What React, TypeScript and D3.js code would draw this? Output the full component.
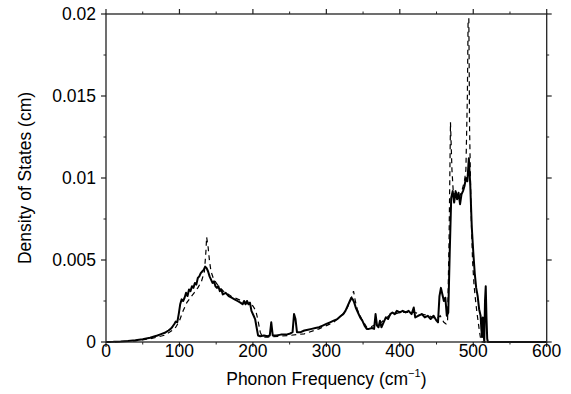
import React from "react";
import * as d3 from "d3";

const W = 571;
const H = 394;
const M = { left: 106, right: 571 - 546.7, top: 14, bottom: 394 - 342 };

const xTicks = [0, 100, 200, 300, 400, 500, 600];
const xMinor = [50, 150, 250, 350, 450, 550];
const yTicks = [0, 0.005, 0.01, 0.015, 0.02];
const yTickLabels = ["0", "0.005", "0.01", "0.015", "0.02"];
const yMinor = [0.0025, 0.0075, 0.0125, 0.0175];

// Solid curve (frequency, DOS)
const solidFreq = [
  0, 10, 20, 30, 40, 50, 60, 70, 75, 80, 85, 88, 90, 93, 95, 97, 99, 101, 103, 105, 107, 109, 111, 113, 115, 117, 119,
  121, 123, 125, 127, 129, 131, 133, 135, 137, 139, 141, 143, 145, 147, 149, 151, 153, 155, 157, 159, 163, 167, 171,
  175, 179, 183, 186, 188, 190, 192, 194, 196, 198, 201, 203, 205, 207, 210, 215, 220, 223, 225, 227, 232, 238, 245,
  250, 254, 256, 258, 260, 265, 270, 275, 280, 285, 290, 295, 300, 305, 310, 315, 320, 323, 326, 329, 332, 334, 336,
  338, 340, 343, 346, 349, 352, 355, 358, 362, 365, 367, 369, 371, 373, 375, 378, 381, 384, 387, 390, 393, 396, 400,
  404, 408, 412, 416, 419, 421, 425, 430, 434, 438, 442, 446, 450, 452, 454, 456, 458, 460, 462, 464, 466, 468, 470,
  472, 474, 476, 478, 480, 482, 484, 486, 488, 490, 492, 494, 496, 498, 500, 502, 504, 506, 508, 510, 511, 512, 513,
  514, 515, 516, 517, 518, 519, 520, 600,
];
const solidDos = [
  0, 0.00001, 0.00003, 0.00006, 0.0001, 0.00017, 0.00026, 0.0004, 0.00048, 0.00056, 0.0007, 0.0008, 0.0009, 0.0011,
  0.00125, 0.0012, 0.0017, 0.0023, 0.0026, 0.0025, 0.0027, 0.003, 0.0028, 0.0032, 0.0031, 0.0034, 0.0033, 0.0036,
  0.0035, 0.0039, 0.004, 0.0042, 0.0043, 0.0044, 0.0046, 0.0045, 0.0043, 0.004, 0.0038, 0.0036, 0.0037, 0.0034,
  0.0033, 0.0034, 0.0031, 0.0032, 0.0029, 0.003, 0.0028, 0.0027, 0.0026, 0.0025, 0.0024, 0.0023, 0.0025, 0.0023,
  0.0025, 0.0023, 0.0024, 0.0019, 0.0016, 0.0014, 0.0009, 0.0004, 0.00035, 0.0004, 0.00035, 0.0004, 0.0012, 0.0004,
  0.0004, 0.00045, 0.00045, 0.0005, 0.0006, 0.0017, 0.0014, 0.0006, 0.0006, 0.0007, 0.00075, 0.0008, 0.00085, 0.0009,
  0.001, 0.0011, 0.0012, 0.0013, 0.0014, 0.0016, 0.0017, 0.0019, 0.0022, 0.0025, 0.0027, 0.0026, 0.0024, 0.0021,
  0.0018, 0.0015, 0.0013, 0.001, 0.0008, 0.0008, 0.00085, 0.0008, 0.0017, 0.001, 0.0009, 0.0013, 0.0009, 0.0012,
  0.0015, 0.0014, 0.0017, 0.0018, 0.0017, 0.0019, 0.0018, 0.0019, 0.0018, 0.0019, 0.0017, 0.0021, 0.0015, 0.0016,
  0.0017, 0.0015, 0.0016, 0.0014, 0.0016, 0.0013, 0.0012, 0.0028, 0.0033, 0.0029, 0.0025, 0.0027, 0.0016, 0.0018,
  0.0055, 0.0088, 0.0092, 0.0085, 0.0092, 0.0087, 0.0091, 0.0084, 0.009, 0.0092, 0.0095, 0.01, 0.0098, 0.0112,
  0.0095, 0.007, 0.0055, 0.0042, 0.0033, 0.0028, 0.002, 0.0016, 0.0008, 0.0003, 0.0015, 0.0006, 0, 0.0025, 0.0034,
  0.0015, 0.0002, 0, 0,
];

// Dashed curve (frequency, DOS)
const dashFreq = [
  0, 20, 40, 60, 70, 80, 90, 95, 100, 105, 110, 115, 120, 125, 130, 134, 136, 137, 139, 141, 143, 146, 150, 155, 160,
  170, 180, 190, 197, 200, 204, 207, 210, 213, 220, 250, 270, 290, 310, 325, 332, 337, 339, 342, 348, 355, 360, 368,
  375, 385, 400, 420, 440, 450, 455, 460, 463, 465, 467, 469, 471, 473, 477, 481, 485, 488, 490, 492, 493, 494, 495,
  497, 499, 501, 503, 505, 508, 510, 512, 600,
];
const dashDos = [
  0, 0.00002, 0.00007, 0.0002, 0.0003, 0.00042, 0.0007, 0.0009, 0.0013, 0.0019, 0.0024, 0.0027, 0.003, 0.0033,
  0.0037, 0.0043, 0.0055, 0.0064, 0.0058, 0.0049, 0.0043, 0.0039, 0.0036, 0.0033, 0.0031, 0.0028, 0.0026, 0.0024,
  0.0023, 0.0022, 0.0019, 0.0013, 0.0006, 0.0003, 0.0003, 0.0004, 0.0005, 0.0008, 0.0012, 0.0018, 0.0024, 0.0031,
  0.0026, 0.002, 0.0014, 0.0009, 0.0009, 0.0011, 0.0012, 0.0016, 0.0018, 0.0018, 0.0016, 0.0014, 0.0016, 0.0012,
  0.0011, 0.0012, 0.006, 0.0134, 0.0105, 0.009, 0.0091, 0.0088, 0.0093, 0.0098, 0.0105, 0.015, 0.0197, 0.0197, 0.013,
  0.008, 0.005, 0.0035, 0.0026, 0.0018, 0.0008, 0.0002, 0, 0,
];

const FONT = "'Liberation Sans', Arial, Helvetica, sans-serif";

export default function App() {
  const x = d3.scaleLinear().domain([0, 600]).range([M.left, W - M.right]);
  const y = d3.scaleLinear().domain([0, 0.02]).range([H - M.bottom, M.top]);
  const line = d3
    .line<[number, number]>()
    .x((d) => x(d[0]))
    .y((d) => y(d[1]));
  const solid = solidFreq.map((f, i) => [f, solidDos[i]] as [number, number]);
  const dashed = dashFreq.map((f, i) => [f, dashDos[i]] as [number, number]);
  const x0 = x(0), x1 = x(600), y0 = y(0), y1 = y(0.02);
  const maj = 5, mnr = 2.5;
  const stroke = "#222";
  return (
    <svg width={W} height={H} style={{ position: "fixed", left: 0, top: 0, background: "#fff" }}>
      <rect x={0} y={0} width={W} height={H} fill="#fff" />
      <path d={line(dashed) || ""} fill="none" stroke="#000" strokeWidth={1.2} strokeDasharray="5,4" />
      <path d={line(solid) || ""} fill="none" stroke="#000" strokeWidth={2} strokeLinejoin="round" />
      <rect x={x0} y={y1} width={x1 - x0} height={y0 - y1} fill="none" stroke={stroke} strokeWidth={1.3} />
      {xTicks.map((t) => (
        <g key={"xt" + t}>
          <line x1={x(t)} x2={x(t)} y1={y0} y2={y0 + maj} stroke={stroke} strokeWidth={1.2} />
          <line x1={x(t)} x2={x(t)} y1={y1} y2={y1 - maj} stroke={stroke} strokeWidth={1.2} />
          <text x={x(t)} y={357} textAnchor="middle" fontFamily={FONT} fontSize={17.5} fill="#000">
            {t}
          </text>
        </g>
      ))}
      {xMinor.map((t) => (
        <g key={"xm" + t}>
          <line x1={x(t)} x2={x(t)} y1={y0} y2={y0 + mnr} stroke={stroke} strokeWidth={1} />
          <line x1={x(t)} x2={x(t)} y1={y1} y2={y1 - mnr} stroke={stroke} strokeWidth={1} />
        </g>
      ))}
      {yTicks.map((t, i) => (
        <g key={"yt" + t}>
          <line x1={x0} x2={x0 - maj} y1={y(t)} y2={y(t)} stroke={stroke} strokeWidth={1.2} />
          <line x1={x1} x2={x1 + maj} y1={y(t)} y2={y(t)} stroke={stroke} strokeWidth={1.2} />
          <text x={96} y={y(t) + 6.3} textAnchor="end" fontFamily={FONT} fontSize={17.5} fill="#000">
            {yTickLabels[i]}
          </text>
        </g>
      ))}
      {yMinor.map((t) => (
        <g key={"ym" + t}>
          <line x1={x0} x2={x0 - mnr} y1={y(t)} y2={y(t)} stroke={stroke} strokeWidth={1} />
          <line x1={x1} x2={x1 + mnr} y1={y(t)} y2={y(t)} stroke={stroke} strokeWidth={1} />
        </g>
      ))}
      <text x={(x0 + x1) / 2} y={385} textAnchor="middle" fontFamily={FONT} fontSize={17.5} fill="#000">
        Phonon Frequency (cm
        <tspan fontSize={11} dy={-8}>−1</tspan>
        <tspan dy={8}>)</tspan>
      </text>
      <text
        transform={`translate(31, ${(y0 + y1) / 2}) rotate(-90)`}
        textAnchor="middle"
        fontFamily={FONT}
        fontSize={17.5}
        fill="#000"
      >
        Density of States (cm)
      </text>
    </svg>
  );
}
